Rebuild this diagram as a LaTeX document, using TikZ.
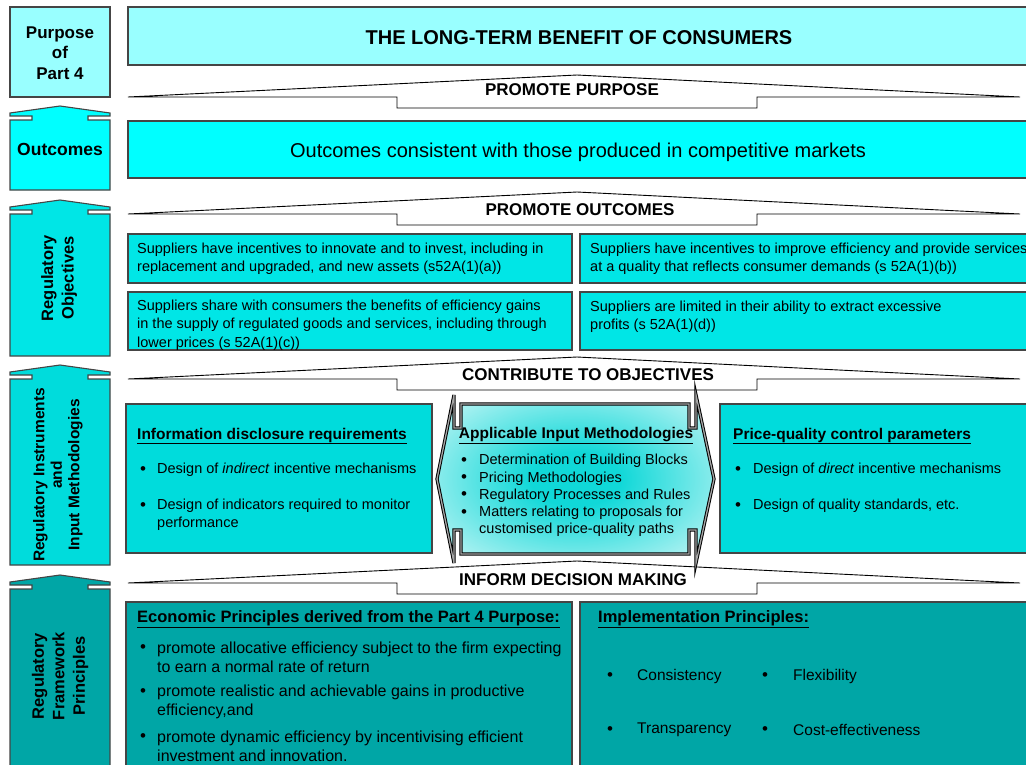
\documentclass[tikz,border=0pt]{standalone}
\usepackage{fontspec}
\setmainfont{Liberation Sans}
\usepackage{tikz}
\definecolor{paleaqua}{HTML}{99FFFF}
\definecolor{aqua}{HTML}{00FFFF}
\definecolor{objaqua}{HTML}{00E6E6}
\definecolor{instaqua}{HTML}{00DCDC}
\definecolor{frameteal}{HTML}{00A6A6}
\definecolor{boxline}{HTML}{454545}
\definecolor{methcyan}{HTML}{10D8D8}
\pgfdeclareradialshading{methglow}{\pgfpoint{0bp}{0bp}}{%
  color(0bp)=(methcyan); color(8bp)=(methcyan); color(42bp)=(white);
  color(50bp)=(white)}

\begin{document}
\begin{tikzpicture}[x=1pt, y=-1pt,
    box/.style={draw=boxline, line width=1.1pt},
    banner/.style={draw=black, line width=0.9pt, fill=white},
    bannertext/.style={font=\bfseries\fontsize{17}{20}\selectfont, inner sep=0pt},
    sidelabel/.style={font=\bfseries\fontsize{16.5}{20.5}\selectfont,
                      align=center, inner sep=0pt},
    body/.style={font=\fontsize{14.5}{18.5}\selectfont, align=left,
                 anchor=west, inner sep=0pt},
    bigbody/.style={font=\fontsize{16}{19}\selectfont, align=left,
                    anchor=west, inner sep=0pt},
    heading/.style={font=\bfseries\fontsize{15.5}{18}\selectfont,
                    anchor=west, inner sep=0pt},
    bullet/.style={font=\fontsize{17}{18}\selectfont, inner sep=0pt}
  ]
    \useasboundingbox (0,0) rectangle (1026,764);
    \clip (0,0) rectangle (1026,764);
    % Left column: purpose box and upward block arrows
    \draw[box, fill=paleaqua] (10,7) rectangle (110,97);
    \foreach \p/\b/\c in {106/190/aqua, 200/356/objaqua, 365/565/instaqua, 575/790/frameteal}
      \draw[box, fill=\c] (10,\b) -- (10,\p+14) -- (32,\p+14) -- (32,\p+10)
        -- (10,\p+10) -- (10,\p+7) -- (60,\p) -- (110,\p+7) -- (110,\p+10)
        -- (88,\p+10) -- (88,\p+14) -- (110,\p+14) -- (110,\b) -- cycle;
    \node[sidelabel, font=\bfseries\fontsize{17}{20.5}\selectfont] (purpose) at (60,53)
      {Purpose\\of\\Part 4};
    \node[sidelabel, font=\bfseries\fontsize{17.5}{20}\selectfont] (outcomeslabel) at (60,149)
      {Outcomes};
    \node[sidelabel, rotate=90] (objlabel) at (59,278) {Regulatory\\Objectives};
    \node[sidelabel, rotate=90, font=\bfseries\fontsize{15.5}{17.5}\selectfont] (instlabel)
      at (58,475) {Regulatory Instruments\\and\\Input Methodologies};
    \node[sidelabel, rotate=90] (framelabel) at (60,676)
      {Regulatory\\Framework\\Principles};
    % Banners between the rows
    \foreach \y in {97,214,379,583}
      \draw[banner] (128,\y) -- (577,\y-22) -- (1020,\y) -- (757,\y) -- (757,\y+11)
        -- (397,\y+11) -- (397,\y) -- cycle;
    \node[bannertext] (promotepurpose) at (572,89.5) {PROMOTE PURPOSE};
    \node[bannertext] (promoteoutcomes) at (580,209.5) {PROMOTE OUTCOMES};
    \node[bannertext] (contribute) at (588,374.5) {CONTRIBUTE TO OBJECTIVES};
    \node[bannertext] (inform) at (573,579.5) {INFORM DECISION MAKING};
    % Purpose and outcomes
    \draw[box, fill=paleaqua] (128,7) rectangle (1034,65);
    \node[font=\bfseries\fontsize{20}{24}\selectfont] (benefit) at (579,38)
      {THE LONG-TERM BENEFIT OF CONSUMERS};
    \draw[box, fill=aqua] (128,121) rectangle (1034,178);
    \node[font=\fontsize{20}{24}\selectfont] (outcomes) at (578,152)
      {Outcomes consistent with those produced in competitive markets};
    % Regulatory objectives
    \draw[box, fill=objaqua] (128,234) rectangle (572,283);
    \draw[box, fill=objaqua] (580,234) rectangle (1034,283);
    \draw[box, fill=objaqua] (128,292) rectangle (572,350);
    \draw[box, fill=objaqua] (580,292) rectangle (1034,350);
    \node[body] (obja) at (137,258.5)
      {Suppliers have incentives to innovate and to invest, including in\\
       replacement and upgraded, and new assets (s52A(1)(a))};
    \node[body] (objb) at (590,258.5)
      {Suppliers have incentives to improve efficiency and provide services\\
       at a quality that reflects consumer demands (s 52A(1)(b))};
    \node[body] (objc) at (137,325)
      {Suppliers share with consumers the benefits of efficiency gains\\
       in the supply of regulated goods and services, including through\\
       lower prices (s 52A(1)(c))};
    \node[body] (objd) at (590,316.5)
      {Suppliers are limited in their ability to extract excessive\\
       profits (s 52A(1)(d))};
    % Regulatory instruments and input methodologies
    \draw[box, fill=instaqua] (126,404) rectangle (432,553);
    \draw[box, fill=instaqua] (720,404) rectangle (1034,553);
    \shadedraw[shading=methglow, draw=black, line width=1pt,
               double=gray!70, double distance=1.3pt]
      (461,404) -- (689,404) -- (689,428) -- (696,428) -- (696,395) -- (714,479)
      -- (696,563) -- (696,530) -- (689,530) -- (689,554) -- (461,554) -- (461,530)
      -- (454,530) -- (454,563) -- (437,479) -- (454,395) -- (454,428) -- (461,428)
      -- cycle;
    \node[heading] (infohead) at (137,436) {\underline{Information disclosure requirements}};
    \node[bullet] (infodot1) at (143,471) {•};
    \node[body] (info1) at (157,470) {Design of \textit{indirect} incentive mechanisms};
    \node[bullet] (infodot2) at (143,507) {•};
    \node[body] (info2) at (157,514.5) {Design of indicators required to monitor\\performance};
    \node[heading, anchor=center] (methhead) at (576,436)
      {\underline{Applicable Input Methodologies}};
    \foreach \y [count=\i] in {462,479,496,514}
      \node[bullet] (methdot\i) at (464,\y) {•};
    \node[body, font=\fontsize{14.5}{17.25}\selectfont] (methlist) at (479,495.5)
      {Determination of Building Blocks\\Pricing Methodologies\\
       Regulatory Processes and Rules\\Matters relating to proposals for\\
       customised price-quality paths};
    \node[heading] (pricehead) at (733,436) {\underline{Price-quality control parameters}};
    \node[bullet] (pricedot1) at (738,471) {•};
    \node[body] (price1) at (753,470) {Design of \textit{direct} incentive mechanisms};
    \node[bullet] (pricedot2) at (738,507) {•};
    \node[body] (price2) at (753,506) {Design of quality standards, etc.};
    % Regulatory framework principles
    \draw[box, fill=frameteal] (126,602) rectangle (572,790);
    \draw[box, fill=frameteal] (580,602) rectangle (1034,790);
    \node[heading, font=\bfseries\fontsize{16.5}{19}\selectfont] (econhead) at (137,619)
      {\underline{Economic Principles derived from the Part 4 Purpose:}};
    \node[bullet] (econdot1) at (143,649) {•};
    \node[bigbody] (econ1) at (157,657.5)
      {promote allocative efficiency subject to the firm expecting\\
       to earn a normal rate of return};
    \node[bullet] (econdot2) at (143,693) {•};
    \node[bigbody] (econ2) at (157,701.5)
      {promote realistic and achievable gains in productive\\efficiency,and};
    \node[bullet] (econdot3) at (143,738) {•};
    \node[bigbody] (econ3) at (157,746)
      {promote dynamic efficiency by incentivising efficient\\
       investment and innovation.};
    \node[heading, font=\bfseries\fontsize{16.5}{19}\selectfont] (implhead) at (598,619)
      {\underline{Implementation Principles:}};
    \node[bullet] (impldot1) at (610,677) {•};
    \node[bigbody, font=\fontsize{15.5}{19}\selectfont] (consistency) at (637,676) {Consistency};
    \node[bullet] (impldot2) at (765,677) {•};
    \node[bigbody, font=\fontsize{15.5}{19}\selectfont] (flexibility) at (793,676) {Flexibility};
    \node[bullet] (impldot3) at (610,731) {•};
    \node[bigbody, font=\fontsize{15.5}{19}\selectfont] (transparency) at (637,730) {Transparency};
    \node[bullet] (impldot4) at (765,731) {•};
    \node[bigbody, font=\fontsize{15.5}{19}\selectfont] (costeff) at (793,730) {Cost-effectiveness};
  \end{tikzpicture}
\end{document}
